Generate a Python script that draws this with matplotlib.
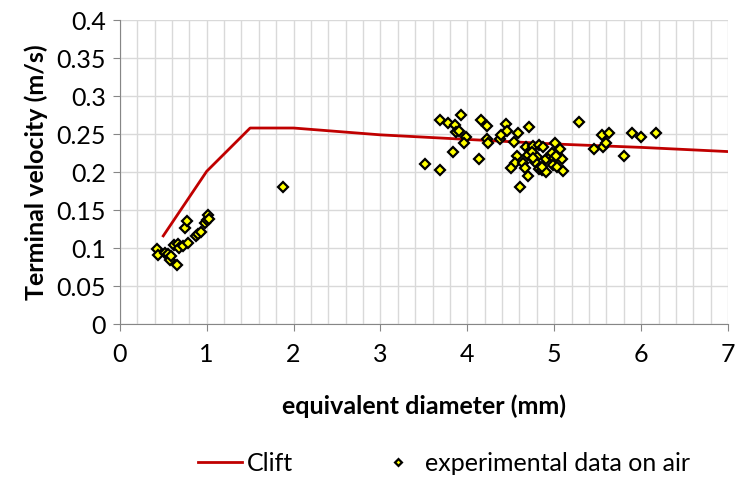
import numpy as np
import matplotlib.pyplot as plt
from matplotlib.ticker import MultipleLocator

plt.rcParams['font.family'] = ['Lato', 'DejaVu Sans']

# Clift correlation curve
clift_d = [0.5, 1.0, 1.5, 2.0, 3.0, 4.0, 5.0, 6.0, 7.0]
clift_v = [0.116, 0.201, 0.258, 0.258, 0.249, 0.243, 0.237, 0.2325, 0.227]

# measured bubbles in air
exp_d = [0.43, 0.44, 0.52, 0.556, 0.576, 0.587, 0.66, 0.62, 0.67, 0.683,
         0.73, 0.787, 0.748, 0.775, 0.875, 0.90, 0.94, 0.98, 0.998, 1.017,
         1.03, 1.873,
         3.51, 3.69, 3.69, 3.78, 3.83, 3.857, 3.865, 3.906, 3.93, 3.99,
         3.96, 4.13, 4.16, 4.23, 4.23, 4.24, 4.37, 4.39, 4.44, 4.46,
         4.536, 4.586, 4.574, 4.55, 4.50, 4.61, 4.64, 4.66, 4.70, 4.71,
         4.68, 4.73, 4.70, 4.75, 4.80, 4.78, 4.82, 4.83, 4.87, 4.86,
         4.90, 4.91, 4.96, 4.97, 4.996, 5.008, 4.99, 5.027, 5.066, 5.09,
         5.10, 5.28, 5.46, 5.545, 5.63, 5.557, 5.60, 5.806, 5.89, 5.995,
         6.167, 4.74, 4.76, 4.855, 5.02]
exp_v = [0.0987, 0.091, 0.094, 0.092, 0.084, 0.089, 0.0776, 0.104, 0.105, 0.100,
         0.103, 0.107, 0.126, 0.135, 0.116, 0.118, 0.121, 0.133, 0.137, 0.144,
         0.138, 0.181,
         0.2105, 0.2026, 0.268, 0.264, 0.2267, 0.2618, 0.253, 0.2544, 0.275, 0.2456,
         0.2377, 0.2167, 0.268, 0.261, 0.244, 0.2377, 0.243, 0.2487, 0.263, 0.2544,
         0.239, 0.2517, 0.2215, 0.2122, 0.2057, 0.1807, 0.2114, 0.2048, 0.1947, 0.2596,
         0.2325, 0.229, 0.2224, 0.234, 0.220, 0.2136, 0.2035, 0.2355, 0.2333, 0.2026,
         0.2004, 0.2167, 0.221, 0.2254, 0.218, 0.2386, 0.2092, 0.2062, 0.231, 0.2167,
         0.2018, 0.2662, 0.231, 0.2487, 0.2509, 0.2333, 0.2377, 0.221, 0.2517, 0.2456,
         0.2517, 0.2268, 0.218, 0.207, 0.2215]

y_ticks = [0, 0.05, 0.1, 0.15, 0.2, 0.25, 0.3, 0.35, 0.4]
y_labels = ['0', '0.05', '0.1', '0.15', '0.2', '0.25', '0.3', '0.35', '0.4']

fig, ax = plt.subplots(figsize=(7.35, 4.8), dpi=100)
fig.subplots_adjust(left=0.163, right=0.9905, top=0.958, bottom=0.325)

ax.plot(clift_d, clift_v, color='#c00000', lw=2, label='Clift', zorder=3)
ax.plot(exp_d, exp_v, ls='none', marker='D', ms=5, mfc='#ffff00', mec='black',
        mew=1.6, label='experimental data on air', zorder=4)

ax.set_xlim(0, 7)
ax.set_ylim(0, 0.4)
ax.xaxis.set_major_locator(MultipleLocator(1))
ax.xaxis.set_minor_locator(MultipleLocator(0.2))
ax.set_yticks(y_ticks)
ax.set_yticklabels(y_labels)

ax.grid(True, which='both', axis='x', color='#d9d9d9', lw=1)
ax.grid(True, which='major', axis='y', color='#d9d9d9', lw=1)
ax.set_axisbelow(True)

for s in ['top', 'right']:
    ax.spines[s].set_visible(False)
for s in ['left', 'bottom']:
    ax.spines[s].set_color('#868686')
ax.tick_params(which='major', length=5, color='#868686', labelsize=18, pad=5)
ax.tick_params(axis='x', which='major', pad=9)
ax.tick_params(which='minor', length=0)

ax.set_xlabel('equivalent diameter (mm)', fontsize=18, fontweight='bold', labelpad=20)
ax.set_ylabel('Terminal velocity (m/s)', fontsize=18, fontweight='bold', labelpad=6)

fig.legend(loc='center', bbox_to_anchor=(0.604, 0.035), ncol=2, frameon=False,
           fontsize=18, handlelength=1.75, columnspacing=3.35, handletextpad=0.2,
           markerscale=0.7)

fig.savefig('out.png')
